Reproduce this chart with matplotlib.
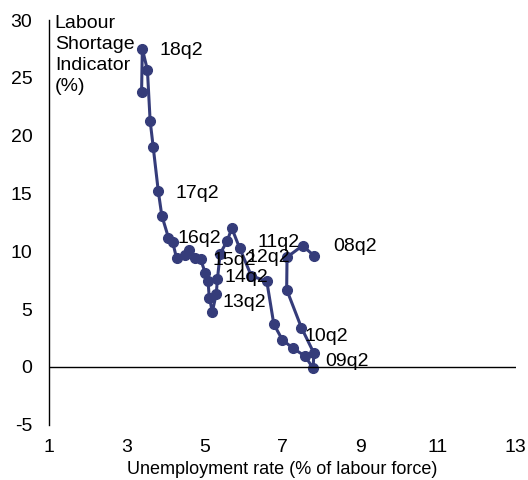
import matplotlib.pyplot as plt

plt.rcParams['font.family'] = ['Liberation Sans', 'DejaVu Sans']
plt.rcParams['axes.unicode_minus'] = False

# path of quarterly observations, 08q2 onwards
unemp = [7.82, 7.52, 7.12, 7.11, 7.49, 7.81, 7.79, 7.58, 7.28, 7.00,
         6.78, 6.60, 6.20, 5.90, 5.70, 5.58, 5.40, 5.33, 5.30, 5.20,
         5.12, 5.09, 5.02, 4.90, 4.75, 4.60, 4.50, 4.28, 4.18, 4.07,
         3.90, 3.81, 3.68, 3.60, 3.53, 3.40, 3.38]
shortage = [9.6, 10.5, 9.5, 6.7, 3.4, 1.2, -0.1, 0.95, 1.6, 2.35,
            3.7, 7.4, 7.9, 10.3, 12.0, 10.9, 9.8, 7.6, 6.3, 4.8,
            6.0, 7.4, 8.1, 9.3, 9.4, 10.1, 9.7, 9.4, 10.8, 11.2,
            13.1, 15.2, 19.0, 21.3, 25.7, 27.5, 23.8]

labels = ['08q2', '09q2', '10q2', '11q2', '12q2', '13q2', '14q2', '15q2', '16q2', '17q2', '18q2']
label_x = [8.30, 8.09, 7.58, 6.37, 6.08, 5.46, 5.52, 5.21, 4.31, 4.26, 3.85]
label_y = [10.45, 0.5, 2.6, 10.8, 9.5, 5.6, 7.7, 9.2, 11.15, 15.0, 27.4]

fig = plt.figure(figsize=(5.28, 4.8), dpi=100)
ax = fig.add_axes([0.0928, 0.115, 0.884, 0.843])

ax.plot(unemp, shortage, color='#353C7A', linewidth=2.2, marker='o', markersize=7)

for txt, x, y in zip(labels, label_x, label_y):
    ax.text(x, y, txt, fontsize=14, va='center', ha='left')

ax.set_xlim(1, 13)
ax.set_ylim(-5, 30)
ax.set_xticks(range(1, 14, 2))
ax.set_yticks(range(-5, 31, 5))
ax.tick_params(length=0, labelsize=14)
ax.tick_params(axis='y', pad=12)
ax.tick_params(axis='x', pad=10)

ax.spines['top'].set_visible(False)
ax.spines['right'].set_visible(False)
ax.spines['bottom'].set_visible(False)
ax.spines['left'].set_linewidth(1)
ax.axhline(0, color='black', linewidth=1)

ax.text(1.15, 30.45, 'Labour\nShortage\nIndicator\n(%)', fontsize=14, va='top', ha='left',
        linespacing=1.3, clip_on=False)
ax.set_xlabel('Unemployment rate (% of labour force)', fontsize=13, labelpad=4)

fig.savefig('out.png', dpi=100)
